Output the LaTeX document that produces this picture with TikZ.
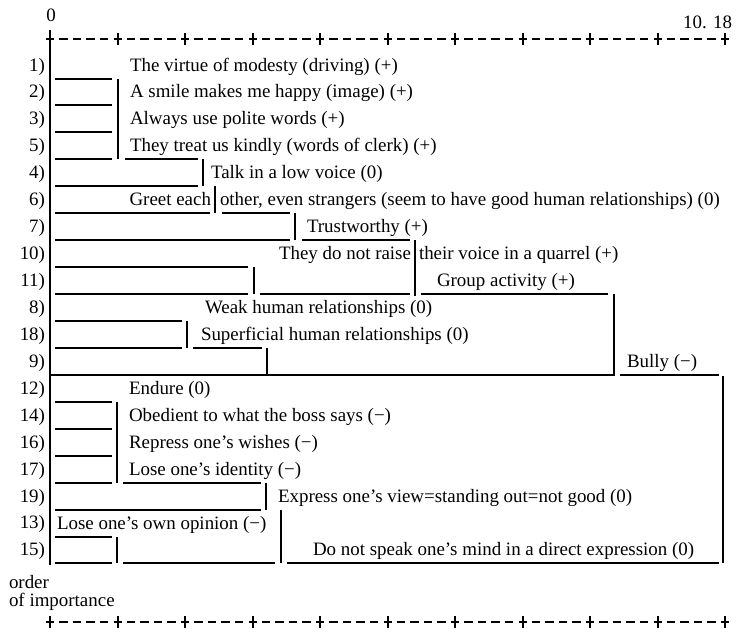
\documentclass[tikz,border=0pt]{standalone}
\usepackage{fontspec}
\setmainfont{Liberation Serif}
\begin{document}
\begin{tikzpicture}[x=0.75pt,y=-0.75pt,
  line width=1.5pt,
  item/.style={anchor=base west,inner sep=0pt,font=\fontsize{14.2}{17}\selectfont},
  num/.style={anchor=base east,inner sep=0pt,font=\fontsize{14.2}{17}\selectfont}]

  \useasboundingbox (0,0) rectangle (747,633);

  % scale at top and bottom
  \node[num,anchor=base] (zero) at (51,21){0};
  \node[num] (top) at (733,28){10. 18};
  \foreach \y in {39,622}{
    \foreach \i in {0,...,10}
      \draw ({50+67.5*\i-4},\y) -- ({50+67.5*\i+4},\y)
            ({50+67.5*\i},{\y-6}) -- ({50+67.5*\i},{\y+6});
    \foreach \i in {0,...,9}
      \foreach \k in {0,...,3}
        \draw ({50+67.5*\i+9.1+13.6*\k},\y) -- ++(8.5,0);
  }
  \node[item] (order) at (8,588){order};
  \node[item] (imp) at (8,606){of importance};

  % case numbers
  \foreach \n [count=\k] in {1,2,3,5,4,6,7,10,11,8,18,9,12,14,16,17,19,13,15}
    \node[num] (n\n) at (46,{65+26.94*(\k-1)+6}){\n)};

  % labels
  \node[item] (t1) at (129,71){The virtue of modesty (driving) (+)};
  \node[item] (t2) at (129,97.9){A smile makes me happy (image) (+)};
  \node[item] (t3) at (129,124.9){Always use polite words (+)};
  \node[item] (t5) at (129,151.8){They treat us kindly (words of clerk) (+)};
  \node[item] (t4) at (210,178.8){Talk in a low voice (0)};
  \node[item,anchor=base east] (t6a) at (212,205.7){Greet each};
  \node[item] (t6b) at (219,205.7){other, even strangers (seem to have good human relationships) (0)};
  \node[item] (t7) at (306,232.6){Trustworthy (+)};
  \node[item,anchor=base east] (t10a) at (412,259.6){They do not raise};
  \node[item] (t10b) at (418,259.6){their voice in a quarrel (+)};
  \node[item] (t11) at (436,286.5){Group activity (+)};
  \node[item] (t8) at (204,313.5){Weak human relationships (0)};
  \node[item] (t18) at (200,340.4){Superficial human relationships (0)};
  \node[item] (t9) at (626,367.3){Bully (−)};
  \node[item] (t12) at (128,394.3){Endure (0)};
  \node[item] (t14) at (128,421.2){Obedient to what the boss says (−)};
  \node[item] (t16) at (128,448.2){Repress one’s wishes (−)};
  \node[item] (t17) at (128,475.1){Lose one’s identity (−)};
  \node[item] (t19) at (277,502){Express one’s view=standing out=not good (0)};
  \node[item] (t13) at (56,529){Lose one’s own opinion (−)};
  \node[item] (t15) at (312,555.9){Do not speak one’s mind in a direct expression (0)};

  % first cluster
  \draw (50,30) -- (50,565);
  \draw (55,78.5) -- (112,78.5) (55,105.4) -- (112,105.4)
        (55,132.4) -- (112,132.4) (55,159.3) -- (112,159.3)
        (118,78.5) -- (118,159.3) (125,159.3) -- (198,159.3);
  \draw (55,186.3) -- (198,186.3) (203,159.3) -- (203,186.3);
  \draw (55,213.2) -- (210,213.2) (215,186.3) -- (215,213.2)
        (222,213.2) -- (290,213.2);
  \draw (55,240.1) -- (290,240.1) (295,213.2) -- (295,240.1)
        (302,240.1) -- (410,240.1);
  \draw (55,267.1) -- (248,267.1) (55,294) -- (248,294)
        (254,267.1) -- (254,294) (260,294) -- (410,294);
  \draw (415,240.1) -- (415,296) (421,294) -- (608,294);
  \draw (55,321) -- (182,321) (55,347.9) -- (182,347.9)
        (187,321) -- (187,347.9) (193,347.9) -- (262,347.9)
        (267,347.9) -- (267,374.8);
  \draw (50,374.8) -- (614,374.8) -- (614,294);
  \draw (620,374.8) -- (719,374.8) (723,376) -- (723,563.4);

  % second cluster
  \draw (55,401.8) -- (112,401.8) (55,428.7) -- (112,428.7)
        (55,455.7) -- (112,455.7) (55,482.6) -- (112,482.6)
        (117,401.8) -- (117,482.6) (123,482.6) -- (261,482.6);
  \draw (55,509.5) -- (261,509.5) (266,482.6) -- (266,509.5);
  \draw (55,536.5) -- (112,536.5) (55,563.4) -- (112,563.4)
        (117,536.5) -- (117,563.4) (123,563.4) -- (275,563.4);
  \draw (281,509.5) -- (281,563.4) (287,563.4) -- (719,563.4);
\end{tikzpicture}
\end{document}
